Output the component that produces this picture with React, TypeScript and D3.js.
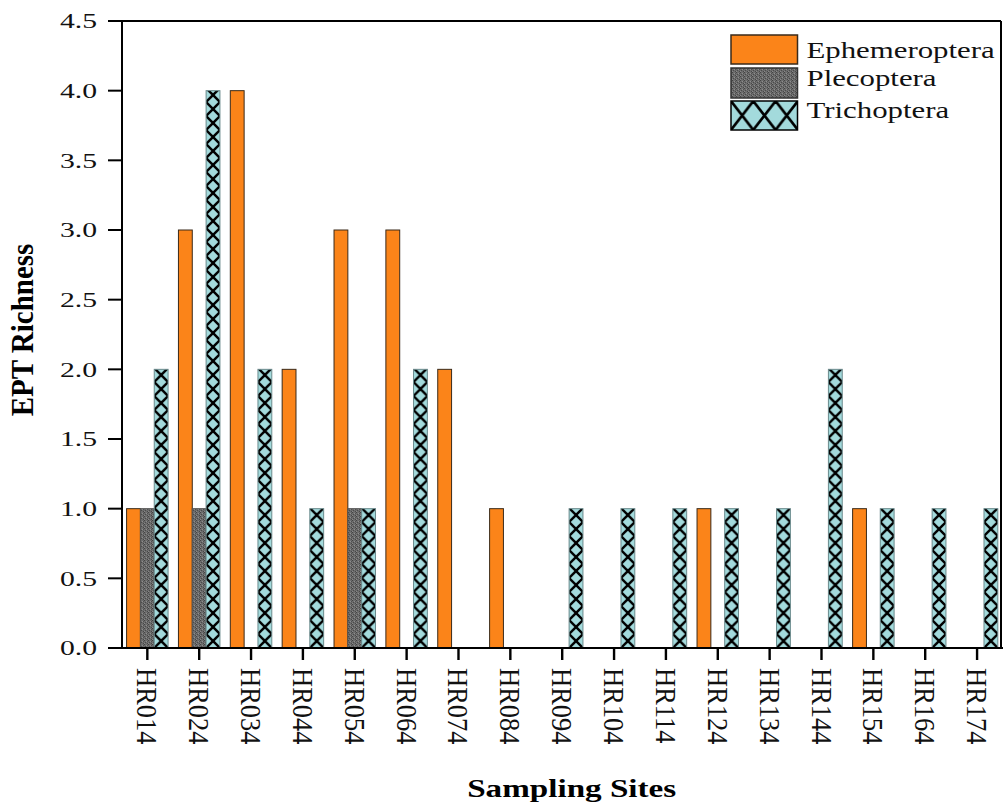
import React from "react";
import * as d3 from "d3";

// EPT richness per sampling site
const sites = [
  "HR014", "HR024", "HR034", "HR044", "HR054", "HR064", "HR074", "HR084", "HR094",
  "HR104", "HR114", "HR124", "HR134", "HR144", "HR154", "HR164", "HR174",
];
const ephemeroptera = [1, 3, 4, 2, 3, 3, 2, 1, 0, 0, 0, 1, 0, 0, 1, 0, 0];
const plecoptera = [1, 1, 0, 0, 1, 0, 0, 0, 0, 0, 0, 0, 0, 0, 0, 0, 0];
const trichoptera = [2, 4, 2, 1, 1, 2, 0, 0, 1, 1, 1, 1, 1, 2, 1, 1, 1];
const seriesNames = ["Ephemeroptera", "Plecoptera", "Trichoptera"];
const yTickValues = [0, 0.5, 1, 1.5, 2, 2.5, 3, 3.5, 4, 4.5];

const W = 1003;
const H = 812;
const left = 121.4;
const right = 1003;
const top = 21;
const bottom = 648;
const FONT = "'Times New Roman', 'Liberation Serif', serif";

const ORANGE = "#FB8419";
const TEAL = "#A3DADC";

export default function App() {
  const x = d3.scaleBand<string>().domain(sites).range([left, right]).paddingInner(0.2).paddingOuter(0.1);
  const xs = d3.scaleBand<string>().domain(seriesNames).range([0, x.bandwidth()]);
  const y = d3.scaleLinear().domain([0, 4.5]).range([bottom, top]);
  const bw = xs.bandwidth();
  const series = [ephemeroptera, plecoptera, trichoptera];
  const center = (s: string) => (x(s) as number) + x.bandwidth() / 2;

  return (
    <svg width={W} height={H} style={{ position: "absolute", left: 0, top: 0, background: "#fff" }}>
      <defs>
        <pattern id="stone" patternUnits="userSpaceOnUse" width={4} height={4}>
          <rect width={4} height={4} fill="#6c6c6c" />
          <rect x={0} y={0} width={1} height={1} fill="#444" />
          <rect x={2} y={1} width={1} height={1} fill="#8e8e8e" />
          <rect x={1} y={2} width={1} height={1} fill="#4a4a4a" />
          <rect x={3} y={3} width={1} height={1} fill="#474747" />
          <rect x={3} y={1} width={1} height={1} fill="#505050" />
          <rect x={0} y={3} width={1} height={1} fill="#888" />
        </pattern>
        {sites.map((s, i) => {
          const bx = (x(s) as number) + (xs("Trichoptera") as number);
          return (
            <pattern key={s} id={`cross-${i}`} patternUnits="userSpaceOnUse" x={bx} y={bottom} width={bw} height={14}>
              <rect width={bw} height={14} fill={TEAL} />
              <line x1={0} y1={0} x2={bw} y2={14} stroke="#000" strokeWidth={2.4} />
              <line x1={bw} y1={0} x2={0} y2={14} stroke="#000" strokeWidth={2.4} />
            </pattern>
          );
        })}
        <pattern id="cross-legend" patternUnits="userSpaceOnUse" x={731} y={101} width={22.3} height={29}>
          <rect width={22.3} height={29} fill={TEAL} />
          <line x1={0} y1={0} x2={22.3} y2={29} stroke="#000" strokeWidth={2.6} />
          <line x1={22.3} y1={0} x2={0} y2={29} stroke="#000" strokeWidth={2.6} />
        </pattern>
      </defs>

      {/* bars */}
      {sites.map((s, i) => (
        <g key={s}>
          {series.map((vals, k) => {
            const v = vals[i];
            if (!v) return null;
            const bx = (x(s) as number) + (xs(seriesNames[k]) as number);
            const fill = k === 0 ? ORANGE : k === 1 ? "url(#stone)" : `url(#cross-${i})`;
            const stroke = k === 0 ? "#3a2a1a" : k === 1 ? "#555" : "#6a8a8c";
            return (
              <rect key={k} x={bx} y={y(v)} width={bw} height={bottom - y(v)} fill={fill} stroke={stroke} strokeWidth={1} />
            );
          })}
        </g>
      ))}

      {/* frame and axes */}
      <line x1={108} y1={top} x2={1001} y2={top} stroke="#000" strokeWidth={2} />
      <line x1={1001} y1={top} x2={1001} y2={bottom} stroke="#000" strokeWidth={2} />
      <line x1={122} y1={top} x2={122} y2={bottom + 1} stroke="#000" strokeWidth={2} />
      <line x1={108} y1={bottom} x2={W} y2={bottom} stroke="#000" strokeWidth={2} />

      {yTickValues.map((t) => (
        <g key={t}>
          <line x1={108} x2={122} y1={y(t)} y2={y(t)} stroke="#000" strokeWidth={2} />
          <g transform={`translate(97, ${y(t)}) scale(1.35, 1)`}>
            <text textAnchor="end" dy="0.34em" fontFamily={FONT} fontSize={22} fill="#111">
              {d3.format(".1f")(t)}
            </text>
          </g>
        </g>
      ))}

      {sites.map((s) => (
        <g key={s}>
          <line x1={center(s)} x2={center(s)} y1={bottom} y2={660} stroke="#000" strokeWidth={2.4} />
          <g transform={`translate(${center(s)}, 668) rotate(90) scale(1, 1.14)`}>
            <text dy="0.33em" fontFamily={FONT} fontSize={26.5} fill="#111">
              {s}
            </text>
          </g>
        </g>
      ))}

      {/* axis titles */}
      <g transform="translate(33, 330) rotate(-90) scale(1, 1.1)">
        <text textAnchor="middle" fontFamily={FONT} fontWeight="bold" fontSize={29} fill="#000">
          EPT Richness
        </text>
      </g>
      <g transform="translate(571.7, 797) scale(1.3, 1)">
        <text textAnchor="middle" fontFamily={FONT} fontWeight="bold" fontSize={25.5} fill="#000">
          Sampling Sites
        </text>
      </g>

      {/* legend */}
      {seriesNames.map((name, k) => {
        const sy = [35, 68, 101][k];
        const sh = [29, 30, 29][k];
        const fill = k === 0 ? ORANGE : k === 1 ? "url(#stone)" : "url(#cross-legend)";
        const stroke = k === 0 ? "#3a2a1a" : k === 1 ? "#333" : "#000";
        const baseline = [57.5, 86, 117.5][k];
        return (
          <g key={name}>
            <rect x={731} y={sy} width={66.5} height={sh} fill={fill} stroke={stroke} strokeWidth={1.5} />
            <g transform={`translate(806.5, ${baseline}) scale(1.37, 1)`}>
              <text fontFamily={FONT} fontSize={22.5} fill="#111">
                {name}
              </text>
            </g>
          </g>
        );
      })}
    </svg>
  );
}
